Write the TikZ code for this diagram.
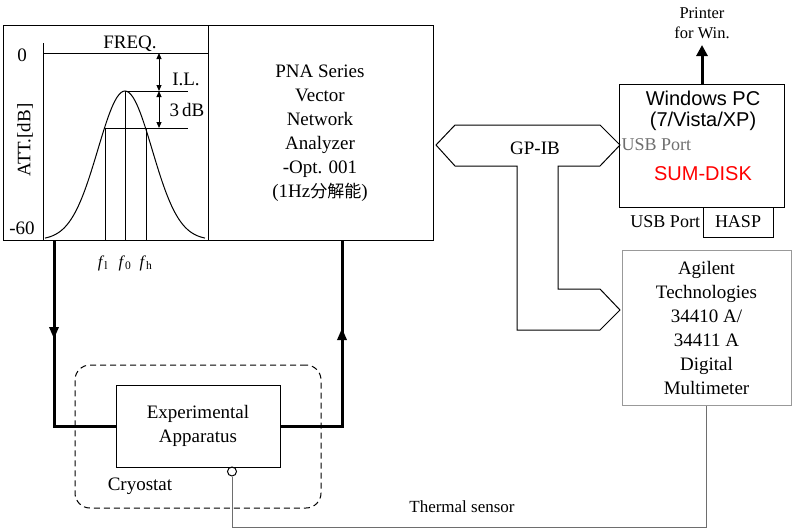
\documentclass[tikz,border=0pt]{standalone}
\usepackage{fontspec}
\setmainfont{Liberation Serif}
\newfontfamily\arial{Liberation Sans}
\newfontfamily\cjk{Noto Sans CJK JP}
\usetikzlibrary{arrows.meta}
\definecolor{grau}{RGB}{110,110,110}

\begin{document}
\begin{tikzpicture}[x=1pt, y=-1pt, line width=1pt, font=\fontsize{19}{24}\selectfont,
    box/.style={draw, inner sep=0pt, align=center},
    small/.style={font=\fontsize{16.5}{20}\selectfont, align=center},
    cable/.style={line width=3pt},
    tip/.style={-{Triangle[length=12pt,width=9pt]}}]
    \useasboundingbox (0,0) rectangle (794,531);

    % network analyzer with filter curve
    \node[box, minimum width=430pt, minimum height=215pt] (vna) at (218,132.5) {};
    \draw (208,25) -- (208,240);
    \draw (43,43) -- (43,240);
    \draw (43,53) -- (208,53);
    \draw plot[domain=-80:80, samples=81, smooth] ({125+\x},{240-149*exp(-((\x)*(\x))/1474)});
    \draw (105,128) -- (105,240) (146,128) -- (146,240) (125,91) -- (125,240);
    \draw (105,128) -- (188,128) (125,91) -- (188,91);
    \draw[{Triangle[length=6pt,width=5pt]}-{Triangle[length=6pt,width=5pt]}] (159,53) -- (159,91);
    \draw[{Triangle[length=6pt,width=5pt]}-{Triangle[length=6pt,width=5pt]}] (159,91) -- (159,128);
    \node (freq) at (130,44) {FREQ.};
    \node (il) at (186,79) {I.L.};
    \node (db) at (187,110) {3\,dB};
    \node (zero) at (22,55) {0};
    \node (minus) at (22,228) {-60};
    \node[rotate=90] (att) at (25,140) {ATT.[dB]};
    \node[small] (fl) at (103,263) {\textit{f}\textsubscript{l}};
    \node[small] (fo) at (125,263) {\textit{f}\textsubscript{0}};
    \node[small] (fh) at (146,263) {\textit{f}\textsubscript{h}};
    \node[align=center] (vnatext) at (320,133) {PNA Series\\Vector\\Network\\Analyzer\\-Opt. 001\\(1Hz{\cjk\fontsize{17}{24}\selectfont 分解能})};

    % GP-IB bus
    \draw (436,145) -- (455,125) -- (600,125) -- (620,145) -- (600,166) -- (558,166) -- (558,289) -- (600,289) -- (620,310) -- (600,330) -- (517,330) -- (517,166) -- (455,166) -- cycle;
    \node (gpib) at (535,148) {GP-IB};

    % PC
    \node[box, minimum width=165pt, minimum height=123pt] (pc) at (701.5,145.5) {};
    \node[font=\arial\fontsize{20}{21}\selectfont, align=center] (pcname) at (703,110.5) {Windows PC\\(7/Vista/XP)};
    \node[text=grau, anchor=west, inner sep=1pt, font=\fontsize{18}{20}\selectfont] (usbin) at (620,145) {USB Port};
    \node[text=red, font=\arial\fontsize{20}{21}\selectfont] (sum) at (703,174) {SUM-DISK};
    \node[box, minimum width=70pt, minimum height=30pt, font=\fontsize{18}{20}\selectfont] (hasp) at (738,222) {HASP};
    \node[anchor=east, inner sep=2pt, font=\fontsize{18}{20}\selectfont] (usbout) at (hasp.west) {USB Port};
    \node[small] (printer) at (702,23) {Printer\\for Win.};
    \coordinate (prn) at (702,45);
    \draw[cable, -{Triangle[length=11pt,width=11pt]}] (pc.north -| prn) -- (prn);

    % multimeter
    \node[box, draw=grau!70, minimum width=169pt, minimum height=155pt] (dmm) at (706.5,327.5) {Agilent\\Technologies\\34410 A/\\34411 A\\Digital\\Multimeter};

    % cryostat
    \node[draw, dash pattern=on 6pt off 4pt, rounded corners=15pt, minimum width=246pt, minimum height=143pt] (cryo) at (198,436.5) {};
    \node[box, minimum width=164pt, minimum height=82pt] (expt) at (198,426) {Experimental\\Apparatus};
    \node (cryolab) at (140,486) {Cryostat};

    % rf cables
    \coordinate (rfout) at (54,240);
    \coordinate (rfin) at (342,240);
    \draw[cable] (rfout) |- (expt.west);
    \draw[cable, tip] (rfout) -- (54,339);
    \draw[cable] (expt.east) -| (rfin);
    \draw[cable, tip] (expt.east -| rfin) -- (342,328);

    % thermal sensor
    \node[draw, circle, inner sep=0pt, minimum size=9pt] (sensor) at (232,471.5) {};
    \coordinate (bend) at (232,527);
    \draw[grau] (sensor.south) -- (bend) -| (dmm.south);
    \node[small, font=\fontsize{17}{20}\selectfont] (thermlab) at (462,507) {Thermal sensor};
\end{tikzpicture}
\end{document}
